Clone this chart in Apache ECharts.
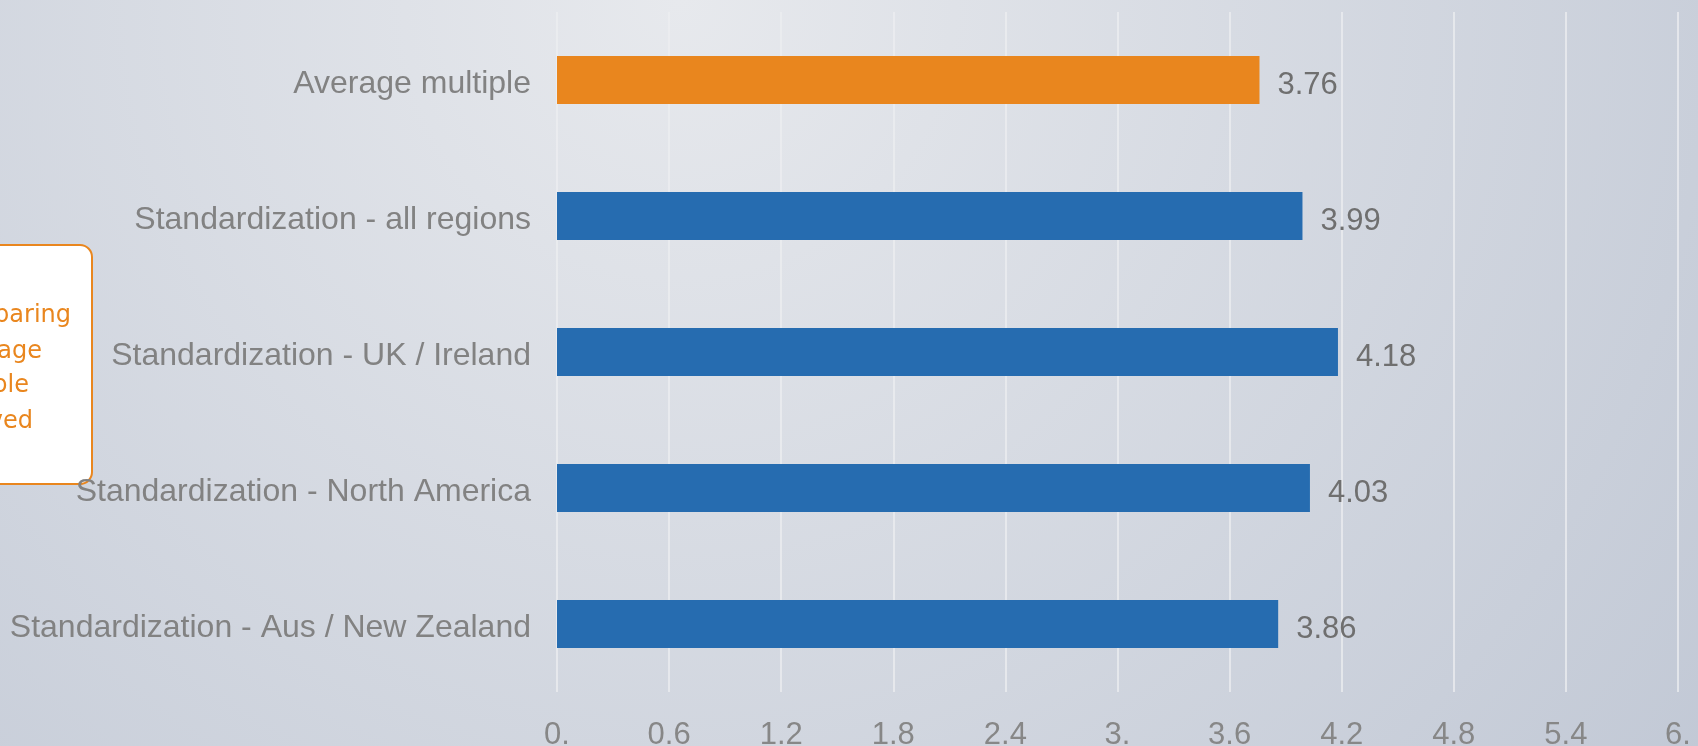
<!DOCTYPE html>
<html>
<head>
<meta charset="utf-8">
<title>Average multiple by standardization region</title>
<script src="https://cdn.jsdelivr.net/npm/echarts@6/dist/echarts.min.js"></script>
<style>
  html, body { margin: 0; padding: 0; }
  #chart { width: 1698px; height: 746px; }
</style>
</head>
<body>
<div id="chart"></div>
<script>
// Regions compared, top to bottom
const categories = [
  'Average multiple',
  'Standardization - all regions',
  'Standardization - UK / Ireland',
  'Standardization - North America',
  'Standardization - Aus / New Zealand'
];

// Multiple per region
const multiples = [3.76, 3.99, 4.18, 4.03, 3.86];

// Value-axis tick labels (one per 0.6 step)
const tickLabels = ['0.', '0.6', '1.2', '1.8', '2.4', '3.', '3.6', '4.2', '4.8', '5.4', '6.'];

// Callout lines (the box sits mostly off the left edge)
const calloutLines = ['Comparing', 'the average', 'available', 'achieved'];

const ORANGE = '#e9861e';
const BLUE = '#266cb0';

const chart = echarts.init(document.getElementById('chart'), null, { renderer: 'canvas' });

const calloutEnds = [71, 42, 29, 33];
const calloutMid = [316, 352, 386, 422];

chart.setOption({
  backgroundColor: {
    type: 'radial', x: 0.4, y: 0, r: 1.75,
    colorStops: [
      { offset: 0, color: '#e7e9ed' },
      { offset: 1, color: '#c1c8d5' }
    ]
  },
  animation: false,
  grid: {
    left: 557, right: 20, top: 12, bottom: 54,
    containLabel: false,
    outerBoundsMode: 'none'
  },
  xAxis: {
    type: 'value',
    min: 0,
    max: 6,
    interval: 0.6,
    axisLine: { show: false },
    axisTick: { show: false },
    splitLine: { show: true, lineStyle: { color: '#eceef1', width: 1.5 } },
    axisLabel: {
      margin: 28,
      color: '#878787',
      fontFamily: 'Liberation Sans, Arial, sans-serif',
      fontSize: 31,
      formatter: (v) => tickLabels[Math.round(v / 0.6)] ?? ''
    }
  },
  yAxis: {
    type: 'category',
    data: categories,
    inverse: true,
    axisLine: { show: false },
    axisTick: { show: false },
    splitLine: { show: false },
    axisLabel: {
      margin: 26,
      verticalAlign: 'top',
      lineHeight: 8,
      color: '#828282',
      fontFamily: 'Liberation Sans, Arial, sans-serif',
      fontSize: 32
    }
  },
  series: [{
    type: 'bar',
    data: multiples,
    barWidth: 48,
    itemStyle: {
      color: (p) => (p.name === 'Average multiple' ? ORANGE : BLUE)
    },
    label: {
      show: true,
      position: 'right',
      distance: 18,
      offset: [0, 5],
      color: '#6f6f6f',
      fontFamily: 'Liberation Sans, Arial, sans-serif',
      fontSize: 31,
      formatter: (p) => p.value.toFixed(2)
    }
  }],
  graphic: [{
    type: 'group',
    silent: true,
    children: [
      {
        type: 'rect',
        shape: { x: -120, y: 245, width: 212, height: 239, r: 12 },
        style: { fill: '#ffffff', stroke: ORANGE, lineWidth: 2 }
      },
      ...calloutLines.map((t, i) => ({
        type: 'text',
        x: calloutEnds[i],
        y: calloutMid[i],
        style: {
          text: t,
          align: 'right',
          verticalAlign: 'middle',
          fill: ORANGE,
          font: '24px "DejaVu Sans", sans-serif'
        }
      }))
    ]
  }]
});
</script>
</body>
</html>
